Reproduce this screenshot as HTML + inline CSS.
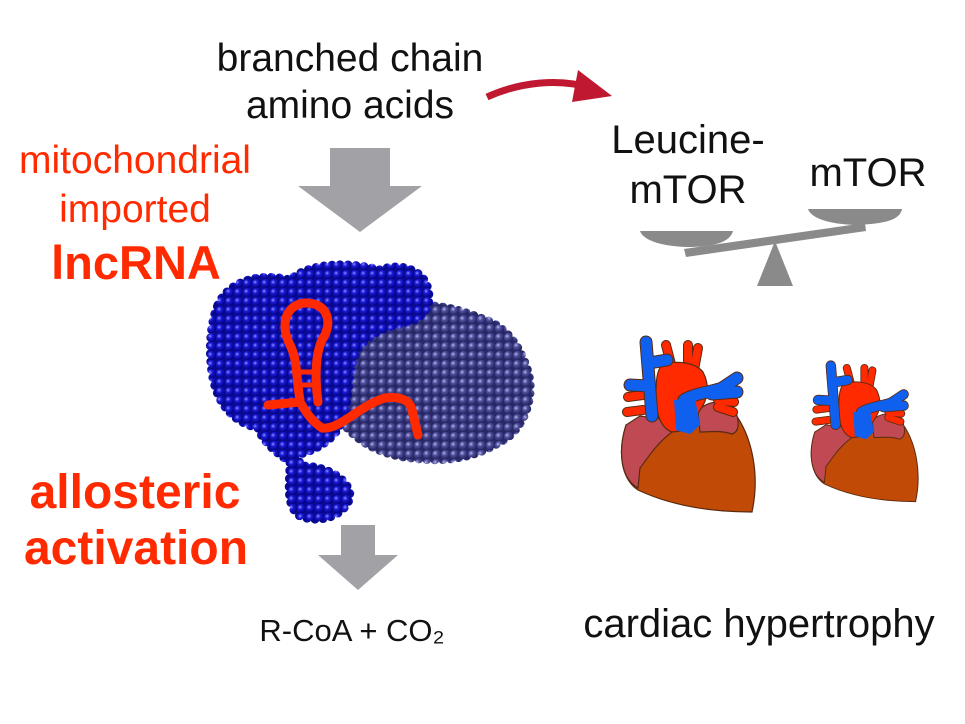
<!DOCTYPE html>
<html><head><meta charset="utf-8"><style>
html,body{margin:0;padding:0;background:#fff}
svg{display:block}
text{font-family:"Liberation Sans",Arial,sans-serif}
</style></head><body>
<svg width="965" height="724" viewBox="0 0 965 724" xmlns="http://www.w3.org/2000/svg">
<defs>
<radialGradient id="bb" cx="0.35" cy="0.35" r="0.7"><stop offset="0" stop-color="#8d8dff"/><stop offset="0.35" stop-color="#1a1ad8"/><stop offset="1" stop-color="#00007a"/></radialGradient>
<radialGradient id="sb" cx="0.35" cy="0.35" r="0.7"><stop offset="0" stop-color="#b8b8e8"/><stop offset="0.35" stop-color="#50509e"/><stop offset="1" stop-color="#20205a"/></radialGradient>
<pattern id="pb" width="9" height="9" patternUnits="userSpaceOnUse"><rect width="9" height="9" fill="#0a0a90"/><circle cx="4.5" cy="4.5" r="4.6" fill="url(#bb)"/></pattern>
<pattern id="ps" width="9" height="9" patternUnits="userSpaceOnUse"><rect width="9" height="9" fill="#282868"/><circle cx="4.5" cy="4.5" r="4.6" fill="url(#sb)"/></pattern>
<g id="heart">
 <g stroke="#5a2a10" stroke-width="1.2">
 <path d="M626,425 C618,450 620,478 638,490 C672,506 712,512 752,512 C760,475 752,440 738,418 L700,410 L650,418 Z" fill="#c04a06"/>
 <path d="M626,425 C618,450 620,478 638,488 L640,468 C648,458 655,445 672,432 L668,420 L640,416 Z" fill="#c04a54"/>
 <path d="M698,412 C705,400 728,398 736,412 C740,425 738,432 732,434 C720,430 710,432 700,432 Z" fill="#c04a54"/>
 </g>
 <g fill="none" stroke-linecap="round" stroke-linejoin="round">
  <g stroke="#5a2a10" stroke-width="10">
   <path d="M628,397 L643,395 M627,412 L643,410 M718,400 L734,402 M718,407 L733,412"/>
   <path d="M666,345 L672,368 M688,345 L688,370 M698,348 L694,370"/>
  </g>
  <g stroke="#ff2a00" stroke-width="8">
   <path d="M628,397 L643,395 M627,412 L643,410 M718,400 L734,402 M718,407 L733,412"/>
   <path d="M666,345 L672,368 M688,345 L688,370 M698,348 L694,370"/>
  </g>
 </g>
 <path d="M662,365 C675,360 695,362 703,372 C710,385 708,400 700,410 L690,430 L672,432 C660,428 655,410 656,395 C656,380 657,370 662,365 Z" fill="#ff2a00" stroke="#5a2a10" stroke-width="1.2"/>
 <g fill="none" stroke-linecap="round" stroke-linejoin="round">
  <g stroke="#5a2a10" stroke-width="13">
   <path d="M646,342 L652,416 M655,362 L667,360 M630,385 L648,386"/>
   <path d="M685,425 L684,400 C695,393 712,392 722,388 L737,378 M712,394 L737,392"/>
  </g>
  <g stroke="#1060f0" stroke-width="11">
   <path d="M646,342 L652,416 M655,362 L667,360 M630,385 L648,386"/>
   <path d="M685,425 L684,400 C695,393 712,392 722,388 L737,378 M712,394 L737,392"/>
  </g>
 </g>
 <path d="M674,400 L695,398 L700,425 L690,434 L676,430 Z" fill="#1060f0"/>
</g>
</defs>

<text x="350" y="71" font-size="39" text-anchor="middle" fill="#111">branched chain</text>
<text x="350" y="118" font-size="39" text-anchor="middle" fill="#111">amino acids</text>
<path d="M487,97 C520,82 560,78 590,88" stroke="#c01830" stroke-width="7" fill="none"/>
<path d="M578,70 L612,96 L572,102 Z" fill="#c01830"/>

<text x="135" y="173" font-size="39" text-anchor="middle" fill="#ff2a00">mitochondrial</text>
<text x="135" y="222" font-size="39" text-anchor="middle" fill="#ff2a00">imported</text>
<text x="136" y="279" font-size="47" font-weight="bold" text-anchor="middle" fill="#ff2a00">lncRNA</text>
<text x="135" y="508" font-size="48" font-weight="bold" text-anchor="middle" fill="#ff2a00">allosteric</text>
<text x="136" y="564" font-size="48" font-weight="bold" text-anchor="middle" fill="#ff2a00">activation</text>

<path d="M330,148 H390 V186 H422 L360,232 L298,186 H330 Z" fill="#a2a2a6"/>
<path d="M341,525 H375 V555 H398 L358,590 L318,555 H341 Z" fill="#a2a2a6"/>
<text x="352" y="641" font-size="31" text-anchor="middle" fill="#111">R-CoA + CO₂</text>

<!-- protein -->
<path d="M335,318 C350,305 380,300 400,310 C430,300 460,310 480,318 C505,325 520,345 528,372 C535,395 525,430 500,442 C470,460 440,462 412,458 C380,455 350,440 335,410 C325,380 325,340 335,318 Z" fill="url(#ps)" stroke="url(#ps)" stroke-width="9" stroke-dasharray="0 8" stroke-linecap="round"/>
<path d="M218,305 C228,282 258,272 290,280 C310,262 350,262 380,270 C400,262 425,270 428,290 C432,305 425,318 408,322 C392,326 372,330 358,348 C345,372 352,400 340,425 C332,442 312,452 295,455 L302,466 C325,466 350,478 350,497 C345,516 320,524 300,516 C285,506 290,482 290,462 C275,452 262,440 258,428 C232,422 216,402 212,372 C208,345 212,318 218,305 Z" fill="url(#pb)" stroke="url(#pb)" stroke-width="9" stroke-dasharray="0 8" stroke-linecap="round"/>
<g fill="none" stroke="#ff2a00" stroke-width="9" stroke-linecap="round" stroke-linejoin="round">
 <path d="M300,400 C296,380 298,360 290,345 C280,325 285,305 305,303 C325,302 335,320 322,340 C315,355 315,380 318,402"/>
 <path d="M268,405 L300,402 C305,410 310,420 322,428 C340,430 360,405 385,398 C400,396 410,400 412,410 L418,435"/>
 <path d="M298,372 L318,372 M298,385 L318,385" stroke-width="5"/>
</g>

<text x="688" y="153" font-size="40" text-anchor="middle" fill="#111">Leucine-</text>
<text x="688" y="203" font-size="40" text-anchor="middle" fill="#111">mTOR</text>
<text x="868" y="186" font-size="40" text-anchor="middle" fill="#111">mTOR</text>
<g fill="#8a8a8a">
 <path d="M640,231 H733 C730,242 715,247 686,247 C660,246 643,240 640,231 Z"/>
 <path d="M808,209 H902 C900,220 885,224 855,225 C828,224 811,218 808,209 Z"/>
 <path d="M684,249 L865,223 L866,231 L686,257 Z"/>
 <path d="M775,241 L793,286 L757,286 Z"/>
</g>

<use href="#heart"/>
<use href="#heart" transform="translate(314,92) scale(0.8)"/>

<text x="759" y="637" font-size="40" text-anchor="middle" fill="#111">cardiac hypertrophy</text>
</svg>
</body></html>
